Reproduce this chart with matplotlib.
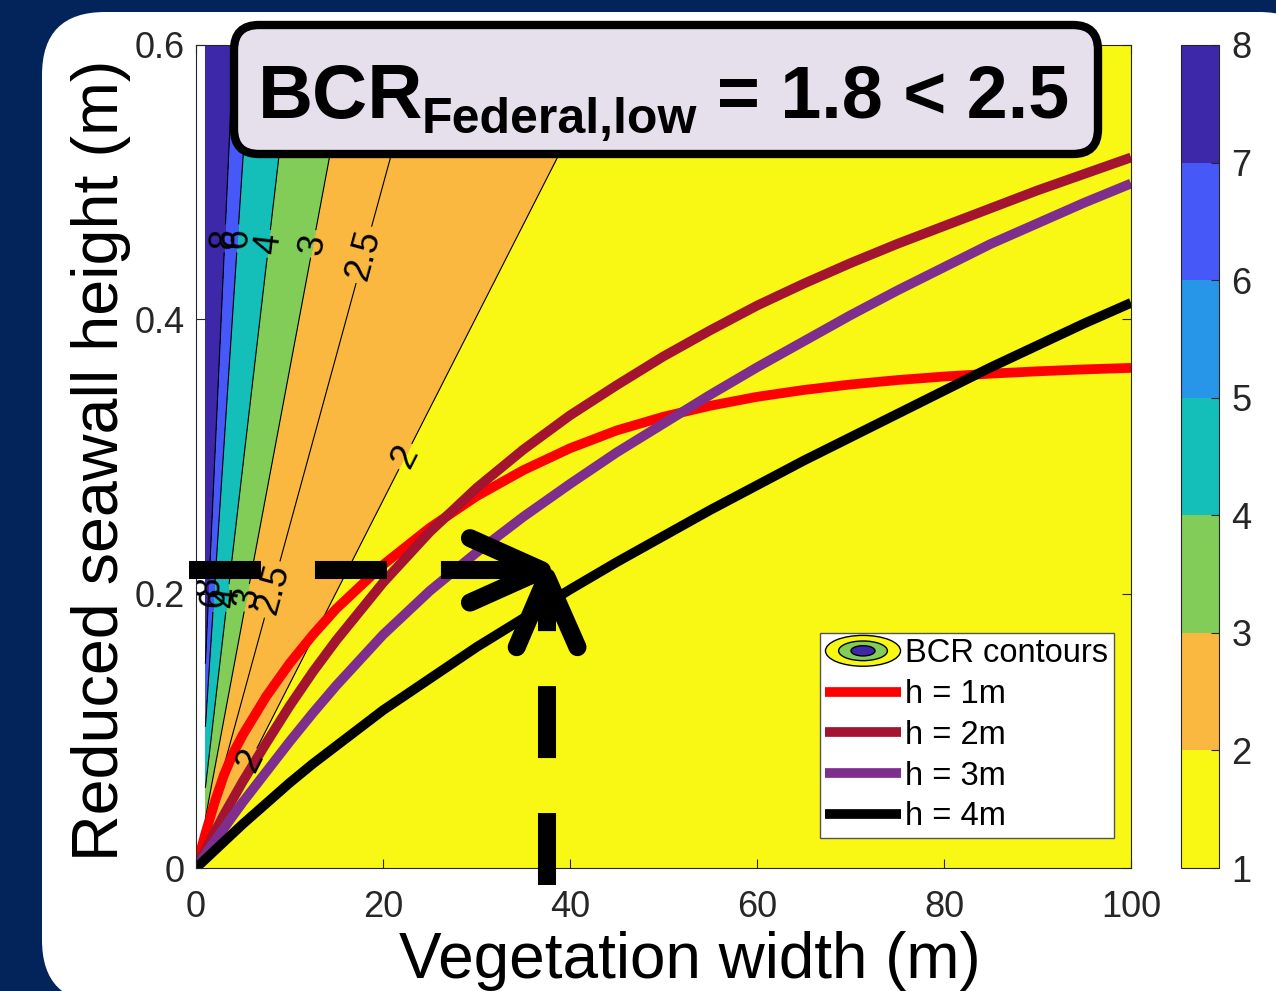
import numpy as np
import matplotlib
matplotlib.use("Agg")
import matplotlib.pyplot as plt
from matplotlib.patches import FancyBboxPatch, Ellipse, Patch
from matplotlib.legend_handler import HandlerBase
from matplotlib.colors import ListedColormap, BoundaryNorm
from matplotlib.cm import ScalarMappable

plt.rcParams["font.family"] = ["Liberation Sans", "DejaVu Sans"]
plt.rcParams["lines.scale_dashes"] = False

# ---------------------------------------------------------------- data
# benefit-cost ratio (BCR) along rays y = s * x through the origin
ray_slope = [0.0, 0.0134, 0.0249, 0.0363, 0.0585, 0.103, 0.149, 0.6]
ray_bcr = [1.4, 2.0, 2.5, 3.0, 4.0, 6.0, 8.0, 28.0]

# contour lines drawn and labelled
line_levels = [2, 2.5, 3, 4, 6, 8]
# filled bands: lower edge of each band and its colour
band_edges = [1, 2, 2.5, 3, 4, 6, 8, 40]

YELLOW, ORANGE, GREEN = "#F8F814", "#FAB840", "#82CC58"
TEAL, LBLUE, BLUE, INDIGO = "#14BEB9", "#2896E8", "#4658F8", "#3C28A8"
band_colors = [YELLOW, ORANGE, ORANGE, GREEN, TEAL, BLUE, INDIGO]

cbar_ticks = [1, 2, 3, 4, 5, 6, 7, 8]
cbar_colors = [YELLOW, ORANGE, GREEN, TEAL, LBLUE, BLUE, INDIGO]

# positions of contour labels (vegetation width m, seawall height m)
label_pos = [
    (3.08, 0.459), (4.46, 0.459), (7.78, 0.455), (12.5, 0.455), (17.95, 0.447),
    (1.38, 0.205), (1.91, 0.197), (3.37, 0.197), (5.43, 0.197), (8.15, 0.203),
    (22.4, 0.300), (5.8, 0.078), (39.5, 0.530),
]

# reduced seawall height vs vegetation width for each water depth h
width_m = [0, 1, 2, 3, 4, 5, 7.5, 10, 12.5, 15, 20, 25, 30, 35, 40, 45, 50,
           55, 60, 65, 70, 75, 80, 85, 90, 95, 100]
h1 = [0, 0.025, 0.048, 0.068, 0.084, 0.097, 0.125, 0.149, 0.170, 0.189, 0.221,
      0.248, 0.271, 0.290, 0.306, 0.319, 0.329, 0.337, 0.3435, 0.3485, 0.3525,
      0.3557, 0.3583, 0.3604, 0.3621, 0.3635, 0.3646]
h2 = [0, 0.013, 0.026, 0.039, 0.051, 0.063, 0.091, 0.118, 0.143, 0.166, 0.208,
      0.245, 0.277, 0.305, 0.330, 0.352, 0.373, 0.392, 0.410, 0.426, 0.441,
      0.455, 0.468, 0.481, 0.494, 0.506, 0.518]
h3 = [0, 0.0098, 0.0195, 0.029, 0.0386, 0.048, 0.070, 0.092, 0.113, 0.133, 0.170,
      0.202, 0.230, 0.256, 0.280, 0.303, 0.324, 0.345, 0.365, 0.384, 0.403,
      0.421, 0.438, 0.455, 0.470, 0.485, 0.499]
h4 = [0, 0.0064, 0.0128, 0.0192, 0.0256, 0.032, 0.047, 0.062, 0.076, 0.089, 0.115,
      0.138, 0.161, 0.182, 0.203, 0.223, 0.242, 0.261, 0.279, 0.297, 0.314,
      0.331, 0.348, 0.365, 0.381, 0.397, 0.412]
curve_labels = ["h = 1m", "h = 2m", "h = 3m", "h = 4m"]
curve_colors = ["#FF0000", "#A2142F", "#7E2F8E", "#000000"]

# annotation: chosen design point
h_arrow_y = 0.217
h_arrow_x0, h_arrow_solid, h_arrow_tip = -0.75, 26.3, 37.0
v_arrow_x = 37.5
v_arrow_y0, v_arrow_tip = -0.0124, 0.212

# ---------------------------------------------------------------- figure
W, H, DPI = 1276, 991, 100
fig = plt.figure(figsize=(W / DPI, H / DPI), dpi=DPI)
fig.patch.set_facecolor("#02245A")


def fx(px):
    return px / W


def fy(py):
    return 1 - py / H


# white rounded panel
panel = FancyBboxPatch((0.42, -0.12), 12.8, (H - 12) / DPI + 0.12,
                       boxstyle="round,pad=0,rounding_size=0.63",
                       transform=fig.dpi_scale_trans, facecolor="white",
                       edgecolor="none", zorder=-10)
fig.patches.append(panel)

ax = fig.add_axes([fx(196), fy(868), fx(1131) - fx(196), fy(45) - fy(868)])
ax.set_xlim(0, 100)
ax.set_ylim(0, 0.6)

xg = np.linspace(1, 100, 600)
yg = np.linspace(0, 0.6, 600)
X, Y = np.meshgrid(xg, yg)
Z = np.interp(Y / X, ray_slope, ray_bcr)

ax.contourf(X, Y, Z, levels=band_edges, colors=band_colors, zorder=1)
cs = ax.contour(X, Y, Z, levels=line_levels, colors="black", linewidths=0.8, zorder=2)
ax.clabel(cs, levels=line_levels, fmt="%g", fontsize=26, inline=True,
          inline_spacing=4, manual=label_pos)

lines = []
for ys, lab, col in zip([h1, h2, h3, h4], curve_labels, curve_colors):
    ln, = ax.plot(width_m, ys, color=col, lw=7, label=lab, zorder=3,
                  solid_capstyle="butt", solid_joinstyle="round")
    lines.append(ln)

# dashed arrows marking the design point
kw = dict(color="black", lw=13, clip_on=False, zorder=8)
ax.plot([h_arrow_x0, h_arrow_solid], [h_arrow_y, h_arrow_y],
        dashes=(51.8, 38.9), dash_capstyle="butt", **kw)
ax.plot([h_arrow_solid, h_arrow_tip - 0.6], [h_arrow_y, h_arrow_y],
        solid_capstyle="butt", **kw)
ax.plot([h_arrow_tip - 7.7, h_arrow_tip, h_arrow_tip - 7.7],
        [h_arrow_y + 0.0235, h_arrow_y, h_arrow_y - 0.0235],
        solid_capstyle="round", solid_joinstyle="round", **kw)
ax.plot([v_arrow_x, v_arrow_x], [v_arrow_y0, v_arrow_tip - 0.004],
        dashes=(51.8, 39.6), dash_capstyle="butt", **kw)
ax.plot([v_arrow_x - 3.2, v_arrow_x, v_arrow_x + 3.3],
        [v_arrow_tip - 0.051, v_arrow_tip, v_arrow_tip - 0.051],
        solid_capstyle="round", solid_joinstyle="round", **kw)

ax.set_xticks([0, 20, 40, 60, 80, 100])
ax.set_yticks([0, 0.2, 0.4, 0.6])
ax.set_yticklabels(["0", "0.2", "0.4", "0.6"])
ax.tick_params(direction="in", length=6.5, width=0.8, labelsize=26,
               colors="#262626", top=True, right=True)
ax.tick_params(axis="x", pad=16)
ax.tick_params(axis="y", pad=8)
for sp in ax.spines.values():
    sp.set_color("#262626")
    sp.set_linewidth(0.8)
    sp.set_zorder(4)


class HandlerNestedEllipses(HandlerBase):
    def create_artists(self, legend, orig_handle, xdescent, ydescent,
                       width, height, fontsize, trans):
        cx = 0.5 * width - xdescent
        cy = 0.5 * height - ydescent
        arts = []
        for fw, fh, col in [(1.0, 1.35, YELLOW), (0.65, 0.86, GREEN),
                            (0.32, 0.45, INDIGO)]:
            arts.append(Ellipse((cx, cy), width * fw, height * fh,
                                facecolor=col, edgecolor="black", lw=1.0,
                                transform=trans))
        return arts


proxy = Patch()
leg = ax.legend([proxy] + lines, ["BCR contours"] + curve_labels,
                handler_map={proxy: HandlerNestedEllipses()},
                loc="lower right", bbox_to_anchor=(0.9818, 0.0365),
                borderaxespad=0, fontsize=23.5, handlelength=2.3,
                handletextpad=0.15, labelspacing=0.3, borderpad=0.17,
                fancybox=False, framealpha=1, edgecolor="#555555")
leg.get_frame().set_linewidth(1.0)
leg.set_zorder(6)

# colour bar
cax = fig.add_axes([fx(1181), fy(868), fx(1219) - fx(1181), fy(45) - fy(868)])
cmap = ListedColormap(cbar_colors)
norm = BoundaryNorm(cbar_ticks, cmap.N)
cb = fig.colorbar(ScalarMappable(norm=norm, cmap=cmap), cax=cax, ticks=cbar_ticks)
cb.ax.tick_params(direction="in", length=6, width=0.8, labelsize=26,
                  colors="#262626", pad=9)
cb.outline.set_edgecolor("#262626")
cb.outline.set_linewidth(0.8)

# axis labels
fig.text(fx(690), fy(978), "Vegetation width (m)", ha="center", va="baseline",
         fontsize=46, color="black")
fig.text(fx(118), fy(460), "Reduced seawall height (m)", ha="center",
         va="baseline", rotation=90, rotation_mode="anchor", fontsize=46.5,
         color="black")

# headline box
box = FancyBboxPatch((2.34, (H - 154) / DPI), 8.64, 1.29,
                     boxstyle="round,pad=0,rounding_size=0.25",
                     transform=fig.dpi_scale_trans, facecolor="#E5E0EC",
                     edgecolor="black", lw=6, zorder=5)
fig.patches.append(box)
fig.text(fx(258), fy(118), "BCR", fontsize=55, fontweight="bold",
         ha="left", va="baseline", zorder=6)
fig.text(fx(422), fy(133), "Federal,low", fontsize=36, fontweight="bold",
         ha="left", va="baseline", zorder=6)
fig.text(fx(717), fy(118), "= 1.8 < 2.5", fontsize=53, fontweight="bold",
         ha="left", va="baseline", zorder=6)

fig.savefig("out.png", dpi=DPI, facecolor=fig.get_facecolor())
